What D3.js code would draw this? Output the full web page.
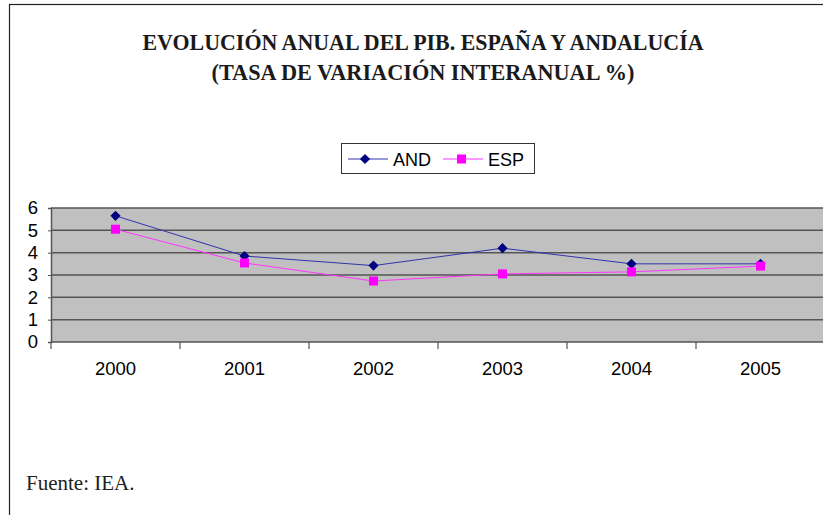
<!DOCTYPE html>
<html>
<head>
<meta charset="utf-8">
<script src="https://cdn.jsdelivr.net/npm/d3@7"></script>
<style>
  body { margin: 0; background: #fff; }
  svg { display: block; }
</style>
</head>
<body>
<div id="chart"></div>
<script>
// Data
const years = ['2000', '2001', '2002', '2003', '2004', '2005'];
const andValues = [5.65, 3.85, 3.42, 4.2, 3.5, 3.5];
const espValues = [5.05, 3.54, 2.73, 3.05, 3.14, 3.4];
const yTicks = [0, 1, 2, 3, 4, 5, 6];
const titleLines = ['EVOLUCIÓN ANUAL DEL PIB. ESPAÑA Y ANDALUCÍA', '(TASA DE VARIACIÓN INTERANUAL %)'];
const seriesNames = ['AND', 'ESP'];

const width = 823, height = 515;
const margin = { top: 208, right: -2, bottom: 173, left: 51 };
const plotW = width - margin.left - margin.right;
const plotH = height - margin.top - margin.bottom;

const sans = '"Liberation Sans", Arial, sans-serif';
const serif = '"Liberation Serif", "Times New Roman", serif';

const svg = d3.select('#chart').append('svg')
    .attr('width', width)
    .attr('height', height);

// Outer frame (only left/top visible in the reference)
svg.append('rect')
    .attr('x', 9.5).attr('y', 4.5)
    .attr('width', 840).attr('height', 540)
    .attr('fill', 'none').attr('stroke', '#222').attr('stroke-width', 1.2);

// Title
const titleWidths = [561, 423];
svg.selectAll('text.title')
    .data(titleLines)
    .join('text')
    .classed('title', true)
    .attr('x', 423)
    .attr('y', (d, i) => 50 + i * 30)
    .attr('text-anchor', 'middle')
    .attr('textLength', (d, i) => titleWidths[i])
    .attr('lengthAdjust', 'spacingAndGlyphs')
    .style('font-family', serif)
    .style('font-weight', 'bold')
    .style('font-size', '23px')
    .style('fill', '#1a1a1a')
    .text(d => d);

// Scales
const scaleX = d3.scaleBand(years, [0, plotW]);
const scaleY = d3.scaleLinear([0, 6], [plotH, 0]);

const chart = svg.append('g')
    .attr('transform', `translate(${margin.left},${margin.top})`);

chart.append('rect')
    .attr('width', plotW).attr('height', plotH)
    .attr('fill', '#c0c0c0');

// Gridlines
chart.selectAll('line.grid')
    .data(yTicks)
    .join('line')
    .classed('grid', true)
    .attr('x1', 0).attr('x2', plotW)
    .attr('y1', d => scaleY(d)).attr('y2', d => scaleY(d))
    .attr('stroke', '#555').attr('stroke-width', 1.5);

// Axes
const axisY = chart.append('g')
    .call(d3.axisLeft(scaleY).tickValues(yTicks).tickSize(3).tickPadding(10).tickFormat(d3.format('d')));
axisY.select('.domain').attr('stroke', '#555').attr('stroke-width', 1.5);
axisY.selectAll('.tick line').attr('stroke', '#555');
axisY.selectAll('text')
    .style('font-family', sans)
    .style('font-size', '18.5px').style('fill', '#000');

const axisX = chart.append('g')
    .attr('transform', `translate(0,${plotH})`)
    .call(d3.axisBottom(scaleX).tickSize(0).tickPadding(20));
axisX.select('.domain').remove();
axisX.selectAll('text')
    .style('font-family', sans)
    .style('font-size', '18.5px').style('fill', '#000');

// Category boundary ticks
chart.selectAll('line.xtick')
    .data(years.concat(['end']))
    .join('line')
    .classed('xtick', true)
    .attr('x1', (d, i) => i * scaleX.step())
    .attr('x2', (d, i) => i * scaleX.step())
    .attr('y1', plotH).attr('y2', plotH + 7)
    .attr('stroke', '#555').attr('stroke-width', 1.2);

// Lines
const cx = d => scaleX(d) + scaleX.bandwidth() / 2;
const line = d3.line()
    .x((d, i) => cx(years[i]))
    .y(d => scaleY(d));

chart.append('path')
    .attr('d', line(andValues))
    .attr('fill', 'none').attr('stroke', '#3333aa').attr('stroke-width', 1);
chart.append('path')
    .attr('d', line(espValues))
    .attr('fill', 'none').attr('stroke', '#ff33ff').attr('stroke-width', 1);

const diamond = d3.symbol(d3.symbolSquare, 52);
chart.selectAll('path.and')
    .data(andValues)
    .join('path')
    .classed('and', true)
    .attr('d', diamond)
    .attr('transform', (d, i) => `translate(${cx(years[i])},${scaleY(d)}) rotate(45)`)
    .attr('fill', '#000080');

chart.selectAll('rect.esp')
    .data(espValues)
    .join('rect')
    .classed('esp', true)
    .attr('x', (d, i) => cx(years[i]) - 4.5)
    .attr('y', d => scaleY(d) - 4.5)
    .attr('width', 9).attr('height', 9)
    .attr('fill', '#ff00ff');

// Legend
const legend = svg.append('g').attr('transform', 'translate(341,143)');
legend.append('rect')
    .attr('x', 0.5).attr('y', 0.5)
    .attr('width', 193).attr('height', 30)
    .attr('fill', '#fff').attr('stroke', '#333').attr('stroke-width', 1);

const legendItems = [
    { name: seriesNames[0], x: 7, color: '#3333aa', marker: 'diamond' },
    { name: seriesNames[1], x: 102, color: '#ff33ff', marker: 'square' }
];
legendItems.forEach(item => {
    legend.append('line')
        .attr('x1', item.x).attr('x2', item.x + 40)
        .attr('y1', 16).attr('y2', 16)
        .attr('stroke', item.color).attr('stroke-width', 1);
    if (item.marker === 'diamond') {
        legend.append('path')
            .attr('d', diamond)
            .attr('transform', `translate(${item.x + 17},16) rotate(45)`)
            .attr('fill', '#000080');
    } else {
        legend.append('rect')
            .attr('x', item.x + 14).attr('y', 11.5)
            .attr('width', 9).attr('height', 9)
            .attr('fill', '#ff00ff');
    }
    legend.append('text')
        .attr('x', item.x + 45).attr('y', 23)
        .style('font-family', sans)
        .style('font-size', '18px').style('fill', '#000')
        .text(item.name);
});

// Source note
svg.append('text')
    .attr('x', 26).attr('y', 490)
    .style('font-family', serif)
    .style('font-size', '21px').style('fill', '#222')
    .text('Fuente: IEA.');
</script>
</body>
</html>
